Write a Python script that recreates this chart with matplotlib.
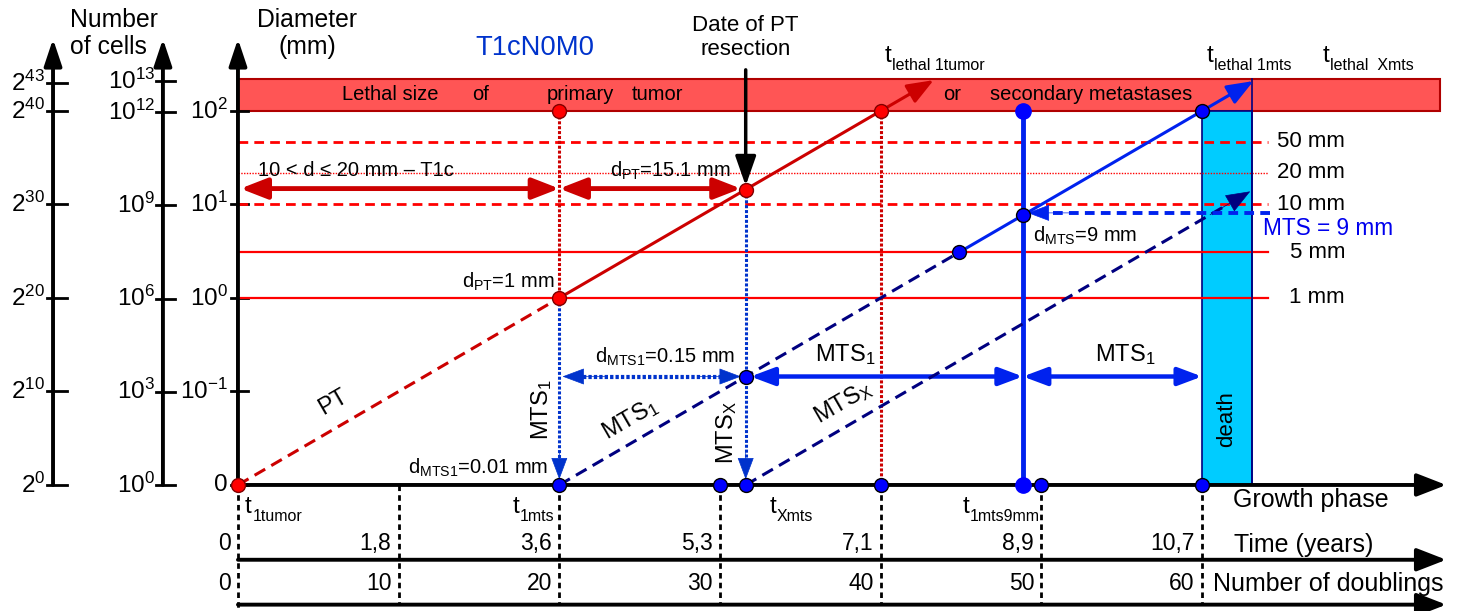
import numpy as np
import matplotlib.pyplot as plt
import matplotlib as mpl
from matplotlib.patches import Rectangle

# fonts: Arial-like text, subscripts in the same font
mpl.rcParams['font.family'] = ['Liberation Sans', 'DejaVu Sans']
mpl.rcParams['mathtext.fontset'] = 'custom'
mpl.rcParams['mathtext.rm'] = 'Liberation Sans'
mpl.rcParams['mathtext.it'] = 'Liberation Sans:italic'
mpl.rcParams['mathtext.bf'] = 'Liberation Sans:bold'
mpl.rcParams['mathtext.default'] = 'regular'

# x = number of doublings (time), y = log2(number of cells)
doublings = [0, 10, 20, 30, 40, 50, 60]
years = ['0', '1,8', '3,6', '5,3', '7,1', '8,9', '10,7']

cell_pow2 = [0, 10, 20, 30, 40, 43]
cell_pow10 = [0, 3, 6, 9, 12, 13]
diam_pos = [0, 10, 20, 30, 40]
diam_lab = ['0', '$10^{-1}$', '$10^{0}$', '$10^{1}$', '$10^{2}$']

level_lab = ['50 mm', '20 mm', '10 mm', '5 mm', '1 mm']
level_y = [36.7, 33.4, 30.0, 24.9, 20.0]
level_ls = ['--', ':', '--', '-', '-']

lethal_lo, lethal_hi = 40.0, 43.4   # lethal size band (2^40 .. 2^43)

t_1tumor = 0.0
t_1mts = 20.0
t_xmts = 31.6          # date of PT resection
t_lethal_pt = 40.0
t_mts5mm = 44.9
t_1mts9mm = 48.85
t_lethal_1mts = 60.0
t_lethal_xmts = 63.1
y_015mm = t_xmts - t_1mts     # MTS1 size at resection
y_9mm = t_1mts9mm - t_1mts
axis_top = 47.7
x_end = 75.2
y_time = -8.0
y_doubl = -12.8

RED = '#ff0000'
DRED = '#cc0000'
BLUE = '#0022ee'
NAVY = '#000080'
DBLUE = '#0033cc'

fig = plt.figure(figsize=(14.62, 6.11), dpi=100)
ax = fig.add_axes([0, 0, 1, 1])
ax.set_xlim(-14.81, 76.18)
ax.set_ylim(-13.48, 51.87)
ax.axis('off')


def arrow(x0, y0, x1, y1, color, lw, hl=0.8, hw=0.3, ms=18, both=False):
    st = '<|-|>' if both else '-|>'
    ax.annotate('', xy=(x1, y1), xytext=(x0, y0),
                arrowprops=dict(arrowstyle=f'{st},head_length={hl},head_width={hw}',
                                color=color, lw=lw, shrinkA=0, shrinkB=0,
                                mutation_scale=ms))


def head(x0, y0, x1, y1, color, ms=18, hl=0.8, hw=0.3):
    # only an arrow head, for dashed / dotted lines
    ax.annotate('', xy=(x1, y1), xytext=(x0, y0),
                arrowprops=dict(arrowstyle=f'-|>,head_length={hl},head_width={hw}',
                                color=color, lw=0.5, shrinkA=0, shrinkB=0,
                                mutation_scale=ms))


def tlabel(x, y, sub, big=17.5, small=11.5):
    # "t" with a small subscript, left aligned at x, baseline at y
    ax.text(x, y, 't', fontsize=big, ha='left', va='baseline')
    ax.annotate(sub, (x, y), xytext=(0.3 * big, -5.5), textcoords='offset points',
                fontsize=small, ha='left', va='baseline')


# lethal band
ax.add_patch(Rectangle((0, lethal_lo), 74.8, lethal_hi - lethal_lo, facecolor='#ff5555',
                       edgecolor='#b00000', lw=1.5, zorder=1))
for x, w in zip([6.47, 14.6, 19.2, 24.5, 43.9, 46.8],
                ['Lethal size', 'of', 'primary', 'tumor', 'or', 'secondary metastases']):
    ax.text(x, 41.75, w, fontsize=14.5, va='center', ha='left', zorder=2)

# death band
ax.add_patch(Rectangle((t_lethal_1mts, 0), t_lethal_xmts - t_lethal_1mts, lethal_lo,
                       facecolor='#00ccff', edgecolor=NAVY, lw=1.2, zorder=2))
ax.plot([t_lethal_xmts, t_lethal_xmts], [0, lethal_hi], color=NAVY, lw=1.2, zorder=3)
ax.text((t_lethal_1mts + t_lethal_xmts) / 2, 7.0, 'death', rotation=90, fontsize=16,
        ha='center', va='center', zorder=3)

# size levels
for y, lab, ls in zip(level_y, level_lab, level_ls):
    if ls == ':':
        ax.plot([0, 64.1], [y, y], color=RED, lw=1.0, ls=(0, (1, 1)), zorder=2)
    elif ls == '--':
        ax.plot([0, 64.1], [y, y], color=RED, lw=2.0, ls=(0, (3.5, 2.2)), zorder=2)
    else:
        ax.plot([0, 64.1], [y, y], color=RED, lw=1.6, zorder=2)
    ax.text(68.9, y, lab, fontsize=16, ha='right', va='center')
ax.text(67.85, 27.4, 'MTS = 9 mm', fontsize=16.3, color='#0000ee', ha='center', va='center')

# vertical guide lines
ax.plot([t_1mts, t_1mts], [lethal_lo, t_1mts], color=DRED, lw=2.2, ls=(0, (1, 0.6)), zorder=3)
ax.plot([t_1mts, t_1mts], [t_1mts, 1.5], color=DBLUE, lw=2.2, ls=(0, (1, 0.6)), zorder=3)
head(t_1mts, 3.5, t_1mts, 0.6, DBLUE)
ax.plot([t_xmts, t_xmts], [t_xmts, 1.5], color=DBLUE, lw=2.2, ls=(0, (1, 0.6)), zorder=3)
head(t_xmts, 3.5, t_xmts, 0.6, DBLUE)
ax.plot([t_lethal_pt, t_lethal_pt], [lethal_lo, 0], color=DRED, lw=2.2, ls=(0, (1, 0.6)), zorder=3)
ax.plot([t_1mts9mm, t_1mts9mm], [0, lethal_lo], color=BLUE, lw=3.5, zorder=4)
arrow(t_xmts, 44.4, t_xmts, t_xmts + 0.4, 'black', 2.5, hl=1.0, hw=0.35)

# PT growth
ax.plot([t_1tumor, t_1mts], [0, t_1mts], color=DRED, lw=2.2, ls=(0, (4, 2.3)), zorder=4)
arrow(t_1mts, t_1mts, 43.3, 43.3, DRED, 2.2, hl=0.9, hw=0.35)

# MTS1 growth
ax.plot([t_1mts, t_mts5mm], [0, t_mts5mm - t_1mts], color=NAVY, lw=2.2,
        ls=(0, (4, 2.3)), zorder=4)
arrow(t_mts5mm, t_mts5mm - t_1mts, 63.2, 43.2, BLUE, 2.2, hl=0.9, hw=0.35)

# MTSX growth
ax.plot([t_xmts, 61.3], [0, 61.3 - t_xmts], color=NAVY, lw=2.2, ls=(0, (4, 2.3)), zorder=4)
head(60.5, 60.5 - t_xmts, 63.0, 63.0 - t_xmts, NAVY, hl=0.9, hw=0.35)

# horizontal arrows
y_arr = 31.7
arrow(0.15, y_arr, t_1mts, y_arr, DRED, 3.5, both=True, hl=0.9, hw=0.35)
arrow(t_1mts, y_arr, t_xmts - 0.3, y_arr, DRED, 3.5, both=True, hl=0.9, hw=0.35)
ax.plot([t_1mts + 1.5, t_xmts - 1.5], [y_015mm, y_015mm], color=DBLUE, lw=3,
        ls=(0, (0.8, 0.5)), zorder=4)
head(t_1mts + 3, y_015mm, t_1mts + 0.2, y_015mm, DBLUE)
head(t_xmts - 3, y_015mm, t_xmts - 0.3, y_015mm, DBLUE)
arrow(t_xmts + 0.3, y_015mm, t_1mts9mm, y_015mm, BLUE, 3.2, both=True)
arrow(t_1mts9mm, y_015mm, t_lethal_1mts, y_015mm, BLUE, 3.2, both=True)
ax.plot([64.2, t_1mts9mm + 1.5], [y_9mm + 0.25, y_9mm + 0.25], color=BLUE, lw=2.8,
        ls=(0, (2.5, 1.6)), zorder=4)
head(t_1mts9mm + 3, y_9mm + 0.25, t_1mts9mm + 0.3, y_9mm + 0.25, BLUE)

# event points
red_x = [t_1tumor, t_1mts, t_1mts, t_xmts, t_lethal_pt]
red_y = [0, t_1mts, lethal_lo, t_xmts, lethal_lo]
ax.plot(red_x, red_y, 'o', ms=10, color='#ff0000', mec='#800000', mew=1, zorder=6)
blue_x = [t_1mts, 30, t_xmts, t_xmts, t_lethal_pt, t_mts5mm, t_1mts9mm, 50, t_lethal_1mts,
          t_lethal_1mts]
blue_y = [0, 0, 0, y_015mm, 0, t_mts5mm - t_1mts, y_9mm, 0, 0, lethal_lo]
ax.plot(blue_x, blue_y, 'o', ms=10, color='#0000ff', mec='black', mew=1, zorder=6)
ax.plot([t_1mts9mm, t_1mts9mm], [0, lethal_lo], 'o', ms=11, color='#0000ff', mec='#0000ff',
        zorder=6)

# left axes
for x in [-11.51, -4.67, 0]:
    arrow(x, 0, x, axis_top, 'black', 2.8, hl=0.9, hw=0.3)
for y in cell_pow2:
    ax.plot([-11.89, -10.64], [y, y], color='black', lw=2)
    ax.text(-12.0, y, f'$2^{{{y}}}$', fontsize=17.5, ha='right', va='center')
for p in cell_pow10:
    y = p * np.log2(10)
    ax.plot([-5.1, -3.92], [y, y], color='black', lw=2)
    ax.text(-5.17, y, f'$10^{{{p}}}$', fontsize=17.5, ha='right', va='center')
for y, lab in zip(diam_pos, diam_lab):
    ax.plot([-0.45, 0.6], [y, y], color='black', lw=2, zorder=1)
    ax.text(-0.62, y, lab, fontsize=17.5, ha='right', va='center')

ax.text(-10.46, 48.3, 'Number\nof cells', fontsize=17.8, ha='left', va='center',
        linespacing=1.15)
ax.text(4.3, 48.3, 'Diameter\n(mm)', fontsize=17.8, ha='center', va='center',
        linespacing=1.15)
ax.text(18.5, 46.7, 'T1cN0M0', fontsize=19.7, color=DBLUE, ha='center', va='center')
ax.text(t_xmts, 47.9, 'Date of PT\nresection', fontsize=16, ha='center', va='center',
        linespacing=1.2)

# lethal time labels
tlabel(40.27, 45.24, 'lethal 1tumor')
tlabel(60.3, 45.24, 'lethal 1mts')
tlabel(67.53, 45.24, 'lethal  Xmts')

# annotations
ax.text(1.25, 33.6, '10 < d ≤ 20 mm – T1c', fontsize=14.5, ha='left', va='center')
ax.text(23.15, 33.6, 'd$_{PT}$=15.1 mm', fontsize=14.5, ha='left', va='center')
ax.text(19.7, 21.7, 'd$_{PT}$=1 mm', fontsize=14.5, ha='right', va='center')
ax.text(26.6, 13.7, 'd$_{MTS1}$=0.15 mm', fontsize=14.5, ha='center', va='center')
ax.text(19.3, 1.8, 'd$_{MTS1}$=0.01 mm', fontsize=14.5, ha='right', va='center')
ax.text(49.5, 26.6, 'd$_{MTS}$=9 mm', fontsize=14.5, ha='left', va='center')
ax.text(37.8, 14.0, 'MTS$_1$', fontsize=17, ha='center', va='center')
ax.text(55.2, 14.0, 'MTS$_1$', fontsize=17, ha='center', va='center')
ax.text(5.9, 8.8, 'PT', fontsize=17, rotation=30, ha='center', va='center')
ax.text(18.9, 8.0, 'MTS$_1$', fontsize=17, rotation=90, ha='center', va='center')
ax.text(24.4, 7.0, 'MTS$_1$', fontsize=17, rotation=30, ha='center', va='center')
ax.text(30.4, 5.6, 'MTS$_X$', fontsize=17, rotation=90, ha='center', va='center')
ax.text(37.65, 8.8, 'MTS$_X$', fontsize=17, rotation=30, ha='center', va='center')

# bottom axes
arrow(0, 0, x_end, 0, 'black', 2.8, hl=0.9, hw=0.35, ms=20)
arrow(0, y_time, x_end, y_time, 'black', 2.8, hl=0.9, hw=0.35, ms=20)
arrow(0, y_doubl, x_end, y_doubl, 'black', 2.8, hl=0.9, hw=0.35, ms=20)
for d, yr in zip(doublings, years):
    ybot = -13.48 if d == 0 else y_doubl
    ax.plot([d, d], [0, ybot], color='black', lw=2, ls=(0, (2, 1.5)), zorder=1)
    ax.text(d - 0.45, -6.3, yr, fontsize=16.5, ha='right', va='center')
    ax.text(d - 0.45, -10.5, str(d), fontsize=16.5, ha='right', va='center')

tlabel(0.44, -3.0, '1tumor')
tlabel(17.1, -3.0, '1mts')
tlabel(33.1, -3.0, 'Xmts')
tlabel(45.1, -3.0, '1mts9mm')
ax.text(61.9, -1.6, 'Growth phase', fontsize=18, ha='left', va='center')
ax.text(62.0, -6.4, 'Time (years)', fontsize=18, ha='left', va='center')
ax.text(60.7, -10.6, 'Number of doublings', fontsize=18, ha='left', va='center')

fig.savefig('out.png', dpi=100)
